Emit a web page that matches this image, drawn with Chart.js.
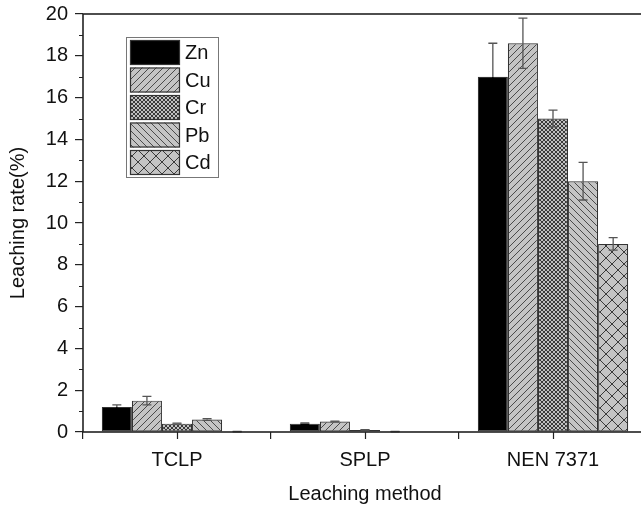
<!DOCTYPE html>
<html>
<head>
<meta charset="utf-8">
<script src="https://cdn.jsdelivr.net/npm/chart.js@4/dist/chart.umd.min.js"></script>
<style>
  html, body { margin: 0; padding: 0; background: #fff; overflow: hidden; }
  canvas { display: block; }
</style>
</head>
<body>
<canvas id="chart" width="660" height="510"></canvas>
<script>
// leaching rate (%) per method, with standard deviations
const methods = ['TCLP', 'SPLP', 'NEN 7371'];
const metals = ['Zn', 'Cu', 'Cr', 'Pb', 'Cd'];

const zn = [1.2, 0.4, 17.0];
const cu = [1.5, 0.5, 18.6];
const cr = [0.4, 0.1, 15.0];
const pb = [0.6, 0.02, 12.0];
const cd = [0.02, 0.01, 9.0];

const znErr = [0.1, 0.03, 1.6];
const cuErr = [0.2, 0.02, 1.2];
const crErr = [0.02, 0.01, 0.4];
const pbErr = [0.04, 0.01, 0.9];
const cdErr = [0.01, 0.0, 0.3];

const yTicks = [0, 2, 4, 6, 8, 10, 12, 14, 16, 18, 20];

// ----------------------------------------------------------------------
// hatch fills
function hatch(size, bg, fg, width, dirs)
{
    const c = document.createElement('canvas');
    c.width = size; c.height = size;
    const g = c.getContext('2d');
    g.fillStyle = bg;
    g.fillRect(0, 0, size, size);
    g.strokeStyle = fg;
    g.lineWidth = width;
    g.beginPath();
    if (dirs.includes('/')) {
        g.moveTo(-1, size + 1); g.lineTo(size + 1, -1);
        g.moveTo(-1, 1); g.lineTo(1, -1);
        g.moveTo(size - 1, size + 1); g.lineTo(size + 1, size - 1);
    }
    if (dirs.includes('\\')) {
        g.moveTo(-1, -1); g.lineTo(size + 1, size + 1);
        g.moveTo(size - 1, -1); g.lineTo(size + 1, 1);
        g.moveTo(-1, size - 1); g.lineTo(1, size + 1);
    }
    g.stroke();
    return g.createPattern(c, 'repeat');
}

const ctx = document.getElementById('chart').getContext('2d');
const fills = [
    '#000000',
    hatch(7, '#c4c4c4', '#4a4a4a', 1, '/'),
    hatch(4, '#c0c0c0', '#3a3a3a', 1, '/\\'),
    hatch(7, '#c4c4c4', '#4a4a4a', 1, '\\'),
    hatch(12, '#c4c4c4', '#3a3a3a', 1, '/\\')
];

const values = [zn, cu, cr, pb, cd];
const errors = [znErr, cuErr, crErr, pbErr, cdErr];

const FONT = '"Liberation Sans", Arial, sans-serif';
const AXIS = '#222';

// error bars, minor ticks, frame and the boxed legend
const extras = {
    id: 'extras',
    afterDatasetsDraw(chart) {
        const g = chart.ctx;
        const y = chart.scales.y;
        g.save();
        g.lineWidth = 1.3;
        chart.data.datasets.forEach((ds, i) => {
            const meta = chart.getDatasetMeta(i);
            meta.data.forEach((bar, j) => {
                const e = ds.err[j];
                if (!e) return;
                const mid = y.getPixelForValue(ds.data[j]);
                const top = y.getPixelForValue(ds.data[j] + e);
                const bot = y.getPixelForValue(ds.data[j] - e);
                // lower half sits inside the bar; on the solid fill it disappears
                g.strokeStyle = ds.backgroundColor === '#000000' ? '#000' : '#555';
                g.beginPath();
                g.moveTo(bar.x, mid); g.lineTo(bar.x, bot);
                g.moveTo(bar.x - 4.5, bot); g.lineTo(bar.x + 4.5, bot);
                g.stroke();
                g.strokeStyle = '#555';
                g.beginPath();
                g.moveTo(bar.x, top); g.lineTo(bar.x, mid);
                g.moveTo(bar.x - 4.5, top); g.lineTo(bar.x + 4.5, top);
                g.stroke();
            });
        });
        g.restore();
    },
    afterDraw(chart) {
        const g = chart.ctx;
        const a = chart.chartArea;
        const x = chart.scales.x;
        const y = chart.scales.y;
        g.save();
        g.strokeStyle = AXIS;
        g.lineWidth = 1.6;
        g.strokeRect(a.left, a.top, a.right - a.left, a.bottom - a.top);

        // minor y ticks
        g.lineWidth = 1.2;
        g.beginPath();
        for (let v = 1; v < 20; v += 2) {
            const py = Math.round(y.getPixelForValue(v)) + 0.5;
            g.moveTo(a.left - 4, py); g.lineTo(a.left, py);
        }
        // x ticks at the category centres
        methods.forEach((m, i) => {
            const px = Math.round(x.getPixelForValue(i)) + 0.5;
            g.moveTo(px, a.bottom); g.lineTo(px, a.bottom + 7);
        });
        g.stroke();

        // legend
        const lx = 126, ly = 37, rowH = 27.5;
        g.fillStyle = '#fff';
        g.strokeStyle = '#777';
        g.lineWidth = 1;
        g.fillRect(lx, ly, 92, 140);
        g.strokeRect(lx + 0.5, ly + 0.5, 92, 140);
        g.font = '20px ' + FONT;
        g.textBaseline = 'middle';
        chart.data.datasets.forEach((ds, i) => {
            const ry = ly + 3 + i * rowH;
            g.fillStyle = ds.backgroundColor;
            g.fillRect(lx + 4, ry, 50, 25);
            g.strokeStyle = '#333';
            g.lineWidth = 1.2;
            g.strokeRect(lx + 4.5, ry + 0.5, 49, 24);
            g.fillStyle = '#111';
            g.fillText(ds.label, lx + 59, ry + 13.5);
        });
        g.restore();
    }
};

const config = {
    type: 'bar',
    data: {
        labels: methods,
        datasets: metals.map((m, i) => ({
            label: m,
            data: values[i],
            err: errors[i],
            backgroundColor: fills[i],
            borderColor: '#333',
            borderWidth: 1.2,
            borderSkipped: false,
            categoryPercentage: 0.8,
            barPercentage: 1.0
        }))
    },
    options: {
        responsive: false,
        animation: false,
        layout: { padding: { top: 14, right: 13, left: 0, bottom: 0 } },
        plugins: {
            legend: { display: false },
            tooltip: { enabled: false }
        },
        scales: {
            x: {
                grid: { display: true, drawOnChartArea: false, offset: true, tickLength: 7, color: AXIS, lineWidth: 1.2 },
                border: { display: false },
                ticks: { color: '#111', font: { family: FONT, size: 20 }, padding: 9 },
                title: { display: true, text: 'Leaching method', color: '#111', font: { family: FONT, size: 20 }, padding: { top: 4, bottom: 4 } },
                afterFit(scale) { scale.height = 78; scale.paddingLeft = 0; scale.paddingRight = 0; }
            },
            y: {
                min: 0,
                max: 20,
                afterBuildTicks(scale) { scale.ticks = yTicks.map(v => ({ value: v })); },
                grid: { display: true, drawOnChartArea: false, tickLength: 8, color: AXIS, lineWidth: 1.2 },
                border: { display: false },
                ticks: { color: '#111', font: { family: FONT, size: 20 }, padding: 7 },
                title: { display: true, text: 'Leaching rate(%)', color: '#111', font: { family: FONT, size: 20 }, padding: { top: 6, bottom: 4 } },
                afterFit(scale) { scale.width = 83; scale.paddingTop = 0; scale.paddingBottom = 0; }
            }
        }
    },
    plugins: [extras]
};

const chart = new Chart(ctx, config);
</script>
</body>
</html>
